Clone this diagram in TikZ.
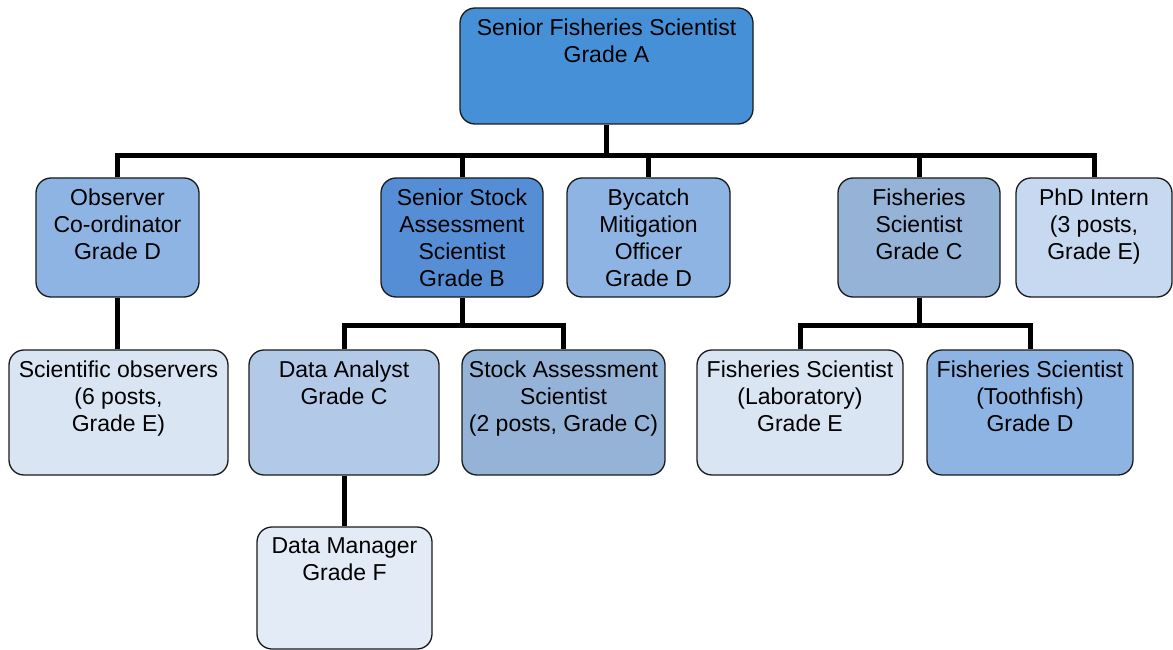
\documentclass[tikz,border=0pt]{standalone}
\usepackage{fontspec}
\setmainfont{Liberation Sans}
\definecolor{cTop}{HTML}{4690D8}
\definecolor{cObs}{HTML}{8EB4E3}
\definecolor{cSsa}{HTML}{568ED5}
\definecolor{cByc}{HTML}{8EB4E3}
\definecolor{cFsc}{HTML}{95B3D7}
\definecolor{cPhd}{HTML}{C6D9F1}
\definecolor{cSco}{HTML}{DAE5F3}
\definecolor{cDan}{HTML}{B2C9E8}
\definecolor{cSas}{HTML}{95B3D7}
\definecolor{cFla}{HTML}{DAE5F3}
\definecolor{cTfi}{HTML}{8EB4E3}
\definecolor{cDma}{HTML}{E3EBF6}
\definecolor{edge}{HTML}{1A1A1A}
\pgfdeclarelayer{background}
\pgfsetlayers{background,main}
\tikzset{
  box/.style={draw=edge, line width=1.3pt, rounded corners=15pt, inner sep=0pt},
  lbl/.style={anchor=north, inner sep=0pt, align=center, font=\fontsize{23}{27}\selectfont},
  conn/.style={draw=black, line width=5pt}
}
\begin{document}
\begin{tikzpicture}[x=1pt,y=-1pt]
\useasboundingbox (0,0) rectangle (1173,650);
\node[box, fill=cTop, minimum width=293pt, minimum height=116pt] (top) at (606.5,66) {};
\node[box, fill=cObs, minimum width=163pt, minimum height=119pt] (obs) at (117.5,237.5) {};
\node[box, fill=cSsa, minimum width=162pt, minimum height=119pt] (ssa) at (462,237.5) {};
\node[box, fill=cByc, minimum width=163pt, minimum height=119pt] (byc) at (648.5,237.5) {};
\node[box, fill=cFsc, minimum width=162pt, minimum height=119pt] (fsc) at (919,237.5) {};
\node[box, fill=cPhd, minimum width=156pt, minimum height=119pt] (phd) at (1094,237.5) {};
\node[box, fill=cSco, minimum width=219pt, minimum height=125pt] (sco) at (118.5,412.5) {};
\node[box, fill=cDan, minimum width=190pt, minimum height=125pt] (dan) at (344,412.5) {};
\node[box, fill=cSas, minimum width=203pt, minimum height=125pt] (sas) at (563.5,412.5) {};
\node[box, fill=cFla, minimum width=206pt, minimum height=125pt] (fla) at (800,412.5) {};
\node[box, fill=cTfi, minimum width=206pt, minimum height=125pt] (tfi) at (1030,412.5) {};
\node[box, fill=cDma, minimum width=175pt, minimum height=122pt] (dma) at (344.5,588) {};
% connectors (behind the boxes)
\begin{pgfonlayer}{background}
\path[conn] (top.south) -- ++(0,31) coordinate (b1);
\path[conn] (obs.north) |- (b1) -| (phd.north);
\path[conn] (ssa.north) -- (ssa.north |- b1);
\path[conn] (byc.north) -- (byc.north |- b1);
\path[conn] (fsc.north) -- (fsc.north |- b1);
\path[conn] (obs.south) -- (obs.south |- sco.north);
\path[conn] (ssa.south) -- ++(0,28) coordinate (b2);
\path[conn] (dan.north) |- (b2) -| (sas.north);
\path[conn] (fsc.south) -- ++(0,28) coordinate (b3);
\path[conn] (fla.north) |- (b3) -| (tfi.north);
\path[conn] (dan.south) -- (dan.south |- dma.north);
\end{pgfonlayer}
% labels
\node[lbl] (ttop) at ([yshift=-11pt]top.north) {Senior Fisheries Scientist\\Grade A};
\node[lbl] (tobs) at ([yshift=-11pt]obs.north) {Observer\\Co-ordinator\\Grade D};
\node[lbl] (tssa) at ([yshift=-11pt]ssa.north) {Senior Stock\\Assessment\\Scientist\\Grade B};
\node[lbl] (tbyc) at ([yshift=-11pt]byc.north) {Bycatch\\Mitigation\\Officer\\Grade D};
\node[lbl] (tfsc) at ([yshift=-11pt]fsc.north) {Fisheries\\Scientist\\Grade C};
\node[lbl] (tphd) at ([yshift=-11pt]phd.north) {PhD Intern\\(3 posts,\\Grade E)};
\node[lbl] (tsco) at ([yshift=-11pt]sco.north) {Scientific observers\\(6 posts,\\Grade E)};
\node[lbl] (tdan) at ([yshift=-11pt]dan.north) {Data Analyst\\Grade C};
\node[lbl] (tsas) at ([yshift=-11pt]sas.north) {Stock Assessment\\Scientist\\(2 posts, Grade C)};
\node[lbl] (tfla) at ([yshift=-11pt]fla.north) {Fisheries Scientist\\(Laboratory)\\Grade E};
\node[lbl] (ttfi) at ([yshift=-11pt]tfi.north) {Fisheries Scientist\\(Toothfish)\\Grade D};
\node[lbl] (tdma) at ([yshift=-11pt]dma.north) {Data Manager\\Grade F};
\end{tikzpicture}
\end{document}
